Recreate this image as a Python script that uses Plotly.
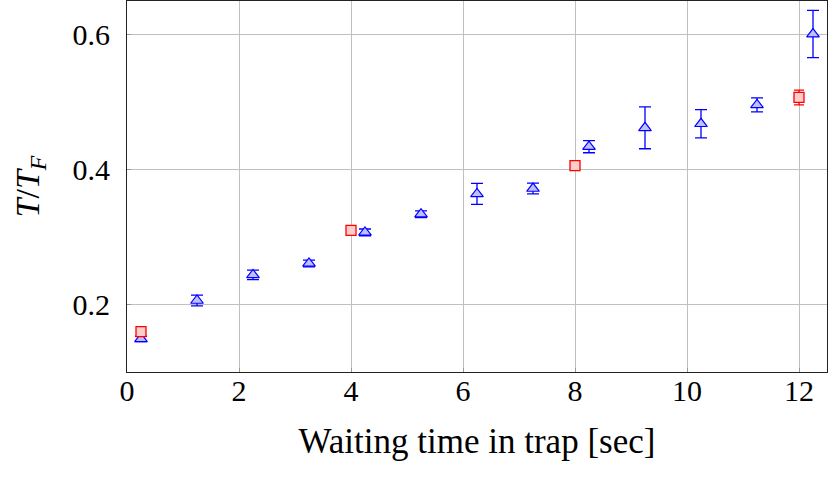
import plotly.graph_objects as go

# triangle series (blue)
tri_x = [0.25, 1.25, 2.25, 3.25, 4.25, 5.25, 6.25, 7.25, 8.25, 9.25, 10.25, 11.25, 12.25]
tri_y = [0.149, 0.206, 0.244, 0.261, 0.307, 0.334, 0.364, 0.372, 0.434, 0.462, 0.468, 0.496, 0.601]
tri_err = [0.004, 0.008, 0.007, 0.005, 0.005, 0.005, 0.0155, 0.008, 0.009, 0.031, 0.021, 0.0105, 0.035]

# square series (red)
sq_x = [0.25, 4, 8, 12]
sq_y = [0.160, 0.310, 0.406, 0.507]
sq_err = [0.004, 0.004, 0.007, 0.011]

x_ticks = [0, 2, 4, 6, 8, 10, 12]
y_ticks = [0.2, 0.4, 0.6]

font_family = "Liberation Serif, DejaVu Serif, serif"

fig = go.Figure()

fig.add_trace(
    go.Scatter(
        x=tri_x,
        y=tri_y,
        mode='markers',
        marker=dict(symbol='triangle-up', size=11, color='#bfbfff',
                    line=dict(color='#0000ff', width=1.2)),
        error_y=dict(type='data', array=tri_err, color='#0000ff', thickness=1.3, width=6),
        showlegend=False,
        cliponaxis=False,
    )
)

fig.add_trace(
    go.Scatter(
        x=sq_x,
        y=sq_y,
        mode='markers',
        marker=dict(symbol='square', size=10, color='#ffcccc',
                    line=dict(color='#ff0000', width=1.3)),
        error_y=dict(type='data', array=sq_err, color='#ff0000', thickness=1.3, width=5),
        showlegend=False,
        cliponaxis=False,
    )
)

fig.update_layout(
    width=829,
    height=477,
    margin=dict(l=127, r=2, t=1, b=105, autoexpand=False),
    paper_bgcolor='white',
    plot_bgcolor='white',
    font=dict(family=font_family, size=31, color='black'),
)

fig.update_xaxes(range=[0, 12.5],
                 tickvals=x_ticks,
                 automargin=False,
                 showgrid=True,
                 gridcolor='#c0c0c0',
                 gridwidth=1,
                 zeroline=False,
                 showline=True,
                 linecolor='#222222',
                 linewidth=1.2,
                 mirror=True,
                 ticks='inside',
                 ticklen=4,
                 tickcolor='#999999',
                 tickfont=dict(size=30),
                 ticklabelstandoff=-8,
                 title=dict(text='Waiting time in trap [sec]', font=dict(size=35), standoff=22),
                 )
fig.update_yaxes(range=[0.1, 0.65],
                 tickvals=y_ticks,
                 tickformat='.1f',
                 automargin=False,
                 showgrid=True,
                 gridcolor='#c0c0c0',
                 gridwidth=1,
                 zeroline=False,
                 showline=True,
                 linecolor='#222222',
                 linewidth=1.2,
                 mirror=True,
                 ticks='inside',
                 ticklen=4,
                 tickcolor='#999999',
                 tickfont=dict(size=30),
                 ticklabelstandoff=10,
                 title=dict(text='<i>T</i>/<i>T</i><sub><i>F</i></sub>', font=dict(size=34), standoff=22),
                 )

fig.write_html("out.html", config={'displayModeBar': False},
               post_script="document.body.style.margin='0';")
